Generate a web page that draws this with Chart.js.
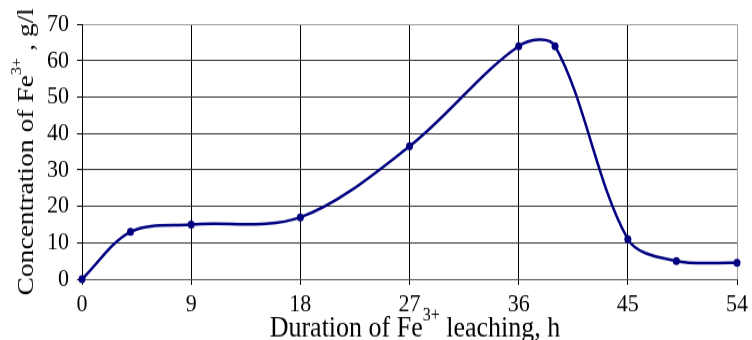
<!DOCTYPE html>
<html>
<head>
<meta charset="utf-8">
<script src="https://cdn.jsdelivr.net/npm/chart.js@4/dist/chart.umd.min.js"></script>
<style>
  body { margin: 0; background: #fff; }
</style>
</head>
<body>
<!-- the original figure is stretched vertically: draw 296px high, show at 340px -->
<canvas id="chart" width="752" height="296" style="display:block;width:752px;height:340px"></canvas>
<script>
const hours = [0, 4, 9, 18, 27, 36, 39, 45, 49, 54];
const concentration = [0, 13, 15, 17, 36.5, 64, 64, 11, 5, 4.5];
const xTitle = ['Duration of Fe', '3+', ' leaching, h'];
const yTitle = ['Concentration of Fe', '3+', ' , g/l'];

const serif = '"Liberation Serif", "Times New Roman", serif';

function drawRich(ctx, parts, x, y, size) {
    const main = size + 'px ' + serif;
    const sup = Math.round(size * 0.6) + 'px ' + serif;
    let total = 0;
    parts.forEach((p, i) => {
        ctx.font = i === 1 ? sup : main;
        total += ctx.measureText(p).width;
    });
    let cx = x - total / 2;
    parts.forEach((p, i) => {
        ctx.font = i === 1 ? sup : main;
        ctx.fillText(p, cx, i === 1 ? y - size * 0.52 : y);
        cx += ctx.measureText(p).width;
    });
}

const titles = {
    id: 'titles',
    afterDraw(chart) {
        const ctx = chart.ctx;
        const area = chart.chartArea;
        ctx.save();
        ctx.fillStyle = '#000';
        ctx.textBaseline = 'alphabetic';
        ctx.textAlign = 'left';
        drawRich(ctx, xTitle, 415, 293, 26);
        ctx.translate(33, (area.top + area.bottom) / 2);
        ctx.rotate(-Math.PI / 2);
        drawRich(ctx, yTitle, 0, 0, 24);
        ctx.restore();
    }
};

const points = hours.map((h, i) => ({ x: h, y: concentration[i] }));

new Chart(document.getElementById('chart'), {
    type: 'line',
    data: {
        datasets: [{
            data: points,
            borderColor: '#000080',
            backgroundColor: '#000080',
            borderWidth: 2.5,
            pointRadius: 3.5,
            pointBackgroundColor: '#000080',
            pointBorderWidth: 0,
            tension: 0.33,
            clip: false
        }]
    },
    options: {
        responsive: false,
        devicePixelRatio: 1,
        animation: false,
        layout: { padding: { top: 16, right: 15, left: 0, bottom: 0 } },
        plugins: {
            legend: { display: false },
            tooltip: { enabled: false }
        },
        scales: {
            x: {
                type: 'linear',
                min: 0,
                max: 54,
                afterFit(scale) { scale.height = 53; },
                ticks: {
                    stepSize: 9,
                    color: '#000',
                    padding: 4,
                    maxRotation: 0,
                    font: { family: serif, size: 22 }
                },
                grid: {
                    color: ctx => ctx.tick && ctx.tick.value === 54 ? '#a0a0a0' : '#000',
                    tickColor: '#000',
                    tickLength: 5,
                    lineWidth: 1
                },
                border: { color: '#555' }
            },
            y: {
                min: 0,
                max: 70,
                afterFit(scale) { scale.width = 82; },
                ticks: {
                    stepSize: 10,
                    color: '#000',
                    padding: 8,
                    font: { family: serif, size: 22 }
                },
                grid: {
                    color: ctx => ctx.tick && ctx.tick.value === 70 ? '#a0a0a0' : '#333',
                    tickColor: '#000',
                    tickLength: 5,
                    lineWidth: 1
                },
                border: { color: '#000' }
            }
        }
    },
    plugins: [titles]
});
</script>
</body>
</html>
